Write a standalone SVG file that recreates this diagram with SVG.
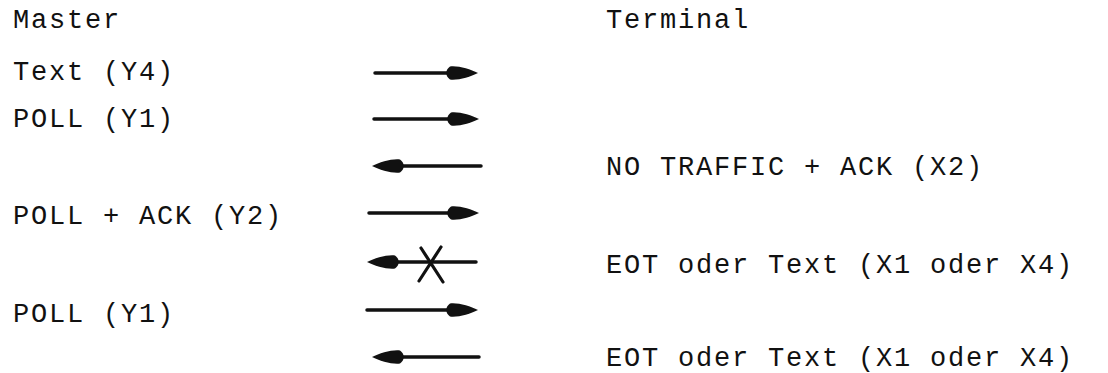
<svg xmlns="http://www.w3.org/2000/svg" width="1108" height="373" viewBox="0 0 1108 373">
  <style>
    .t { font-family: "Liberation Mono", "Courier New", monospace; font-size: 27px; letter-spacing: 1.8px; fill: #111; }
    .shaft { stroke: #111; stroke-width: 3.5; stroke-linecap: round; fill: none; }
    .cross { stroke: #111; stroke-width: 3.2; stroke-linecap: round; fill: none; }
    .head { fill: #111; }
  </style>
  <defs>
    <!-- spindle-shaped arrowhead, tip at origin, pointing right -->
    <path id="headR" class="head" d="M0,0 C-8,-4 -20,-7.5 -28,-6.5 C-33,-3 -33,3 -28,6.5 C-20,7.5 -8,4 0,0 Z"/>
    <path id="headL" class="head" d="M0,0 C8,-4 20,-7.5 28,-6.5 C33,-3 33,3 28,6.5 C20,7.5 8,4 0,0 Z"/>
  </defs>

  <rect width="1108" height="373" fill="#fff"/>

  <g id="master-header"><text class="t" x="13" y="28">Master</text></g>
  <g id="terminal-header"><text class="t" x="606" y="28">Terminal</text></g>

  <g id="m-text-y4"><text class="t" x="13" y="80">Text (Y4)</text></g>
  <g id="m-poll-y1-a"><text class="t" x="13" y="127">POLL (Y1)</text></g>
  <g id="t-no-traffic"><text class="t" x="606" y="175">NO TRAFFIC + ACK (X2)</text></g>
  <g id="m-poll-ack"><text class="t" x="13" y="224">POLL + ACK (Y2)</text></g>
  <g id="t-eot-a"><text class="t" x="606" y="273">EOT oder Text (X1 oder X4)</text></g>
  <g id="m-poll-y1-b"><text class="t" x="13" y="322">POLL (Y1)</text></g>
  <g id="t-eot-b"><text class="t" x="606" y="366">EOT oder Text (X1 oder X4)</text></g>

  <g id="connectors">
    <!-- Master -> Terminal -->
    <line class="shaft" x1="375" y1="73" x2="460" y2="73"/>
    <use href="#headR" x="478" y="73"/>
    <line class="shaft" x1="374" y1="119" x2="460" y2="119"/>
    <use href="#headR" x="479" y="119"/>
    <!-- Terminal -> Master -->
    <line class="shaft" x1="390" y1="166" x2="481" y2="166"/>
    <use href="#headL" x="372" y="166"/>
    <line class="shaft" x1="369" y1="213" x2="460" y2="213"/>
    <use href="#headR" x="479" y="213"/>
    <!-- lost reply, crossed out -->
    <line class="shaft" x1="385" y1="262" x2="476" y2="262"/>
    <use href="#headL" x="367" y="262"/>
    <path class="cross" d="M421,248 L443,282 M441,247 L419,281"/>
    <line class="shaft" x1="367" y1="310" x2="460" y2="310"/>
    <use href="#headR" x="478" y="310"/>
    <line class="shaft" x1="390" y1="357" x2="479" y2="357"/>
    <use href="#headL" x="372" y="357"/>
  </g>
</svg>
